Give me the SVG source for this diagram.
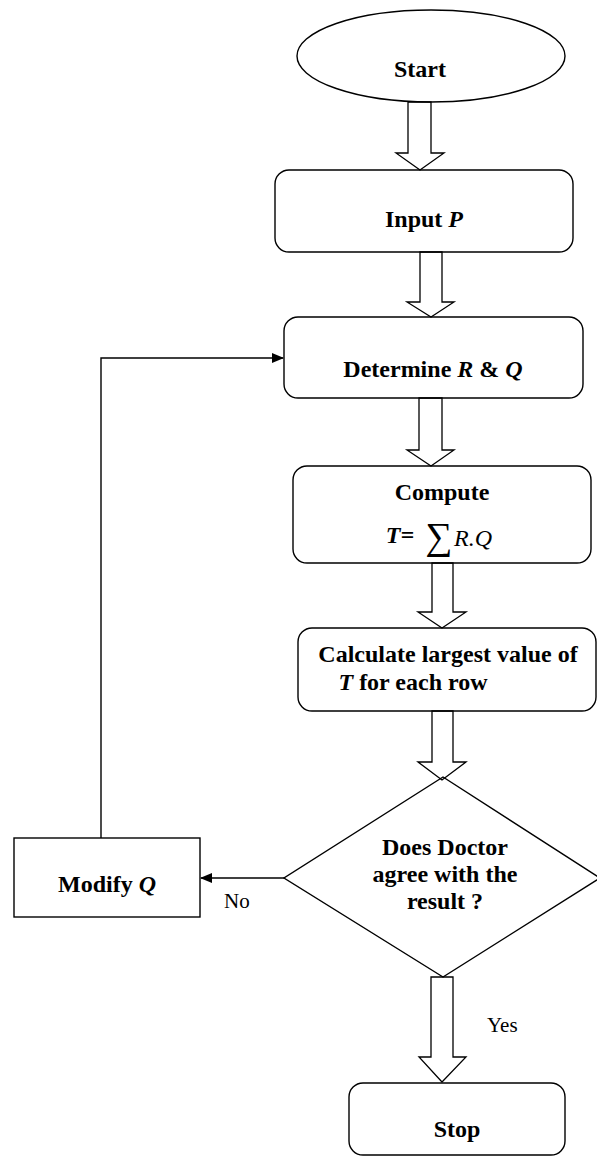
<svg xmlns="http://www.w3.org/2000/svg" width="597" height="1156" viewBox="0 0 597 1156">
<style>
.sh{fill:#fff;stroke:#000;stroke-width:1.4}
.ba{fill:none;stroke:#000;stroke-width:1.3;stroke-linejoin:miter}
.t{font-family:"Liberation Serif","Times New Roman",serif;font-size:24px;font-weight:bold;fill:#000;text-anchor:middle}
.i{font-style:italic}
.lb{font-family:"Liberation Serif","Times New Roman",serif;font-size:21px;fill:#000}
.cn{fill:none;stroke:#000;stroke-width:1.4}
</style>
<defs>
<marker id="ah" markerWidth="12" markerHeight="10" refX="11" refY="5" orient="auto" markerUnits="userSpaceOnUse">
<path d="M0,0 L12,5 L0,10 Z" fill="#000"/>
</marker>
</defs>
<rect width="597" height="1156" fill="#fff"/>
<g id="start">
<ellipse class="sh" cx="431" cy="56" rx="134" ry="46"/>
<text class="t" x="420" y="77">Start</text>
</g>
<g id="input">
<rect class="sh" x="275" y="170" width="298" height="82" rx="14"/>
<text class="t" x="424" y="227">Input <tspan class="i">P</tspan></text>
</g>
<g id="determine">
<rect class="sh" x="284" y="317" width="299" height="81" rx="14"/>
<text class="t" x="433" y="377">Determine <tspan class="i">R</tspan> &amp; <tspan class="i">Q</tspan></text>
</g>
<g id="compute">
<rect class="sh" x="293" y="466" width="298" height="97" rx="14"/>
<text class="t" x="442" y="500">Compute</text>
<text class="t" x="400" y="543" font-style="italic">T=</text>
<text x="439" y="549" font-family="'Liberation Serif','DejaVu Serif',serif" font-size="38" text-anchor="middle">∑</text>
<text x="473" y="546" font-family="'Liberation Serif',serif" font-size="24" font-style="italic" text-anchor="middle">R.Q</text>
</g>
<g id="calculate">
<rect class="sh" x="298" y="628" width="298" height="83" rx="14"/>
<text class="t" x="448" y="662">Calculate largest value of</text>
<text class="t" x="413" y="690"><tspan class="i">T</tspan> for each row</text>
</g>
<g id="decision">
<polygon class="sh" points="443,777 600,878 443,977 284,878" style="fill:none"/>
<text class="t" x="445" y="855">Does Doctor</text>
<text class="t" x="445" y="882">agree with the</text>
<text class="t" x="445" y="909">result ?</text>
</g>
<g id="modify">
<rect class="sh" x="14" y="838" width="186" height="79"/>
<text class="t" x="107" y="892">Modify <tspan class="i">Q</tspan></text>
</g>
<g id="stop">
<rect class="sh" x="349" y="1083" width="216" height="72" rx="14"/>
<text class="t" x="457" y="1137">Stop</text>
</g>
<g id="connectors">
<polygon class="ba" points="408,102 431,102 431,153 444,153 420,170 396,153 408,153"/>
<polygon class="ba" points="420,252 442,252 442,302 454,302 431,317 407,302 420,302"/>
<polygon class="ba" points="419,398 442,398 442,450 454,450 431,466 407,450 419,450"/>
<polygon class="ba" points="432,563 453,563 453,612 466,612 442,628 418,612 432,612"/>
<polygon class="ba" points="432,711 453,711 453,762 466,762 442,780 418,762 432,762"/>
<polygon class="ba" points="431,977 453,977 453,1057 466,1057 442,1082 419,1057 431,1057"/>
<polyline class="cn" points="284,878 201,878" marker-end="url(#ah)"/>
<polyline class="cn" points="101,838 101,358 283,358" marker-end="url(#ah)"/>
<text class="lb" x="224" y="908">No</text>
<text class="lb" x="487" y="1032">Yes</text>
</g>
</svg>
